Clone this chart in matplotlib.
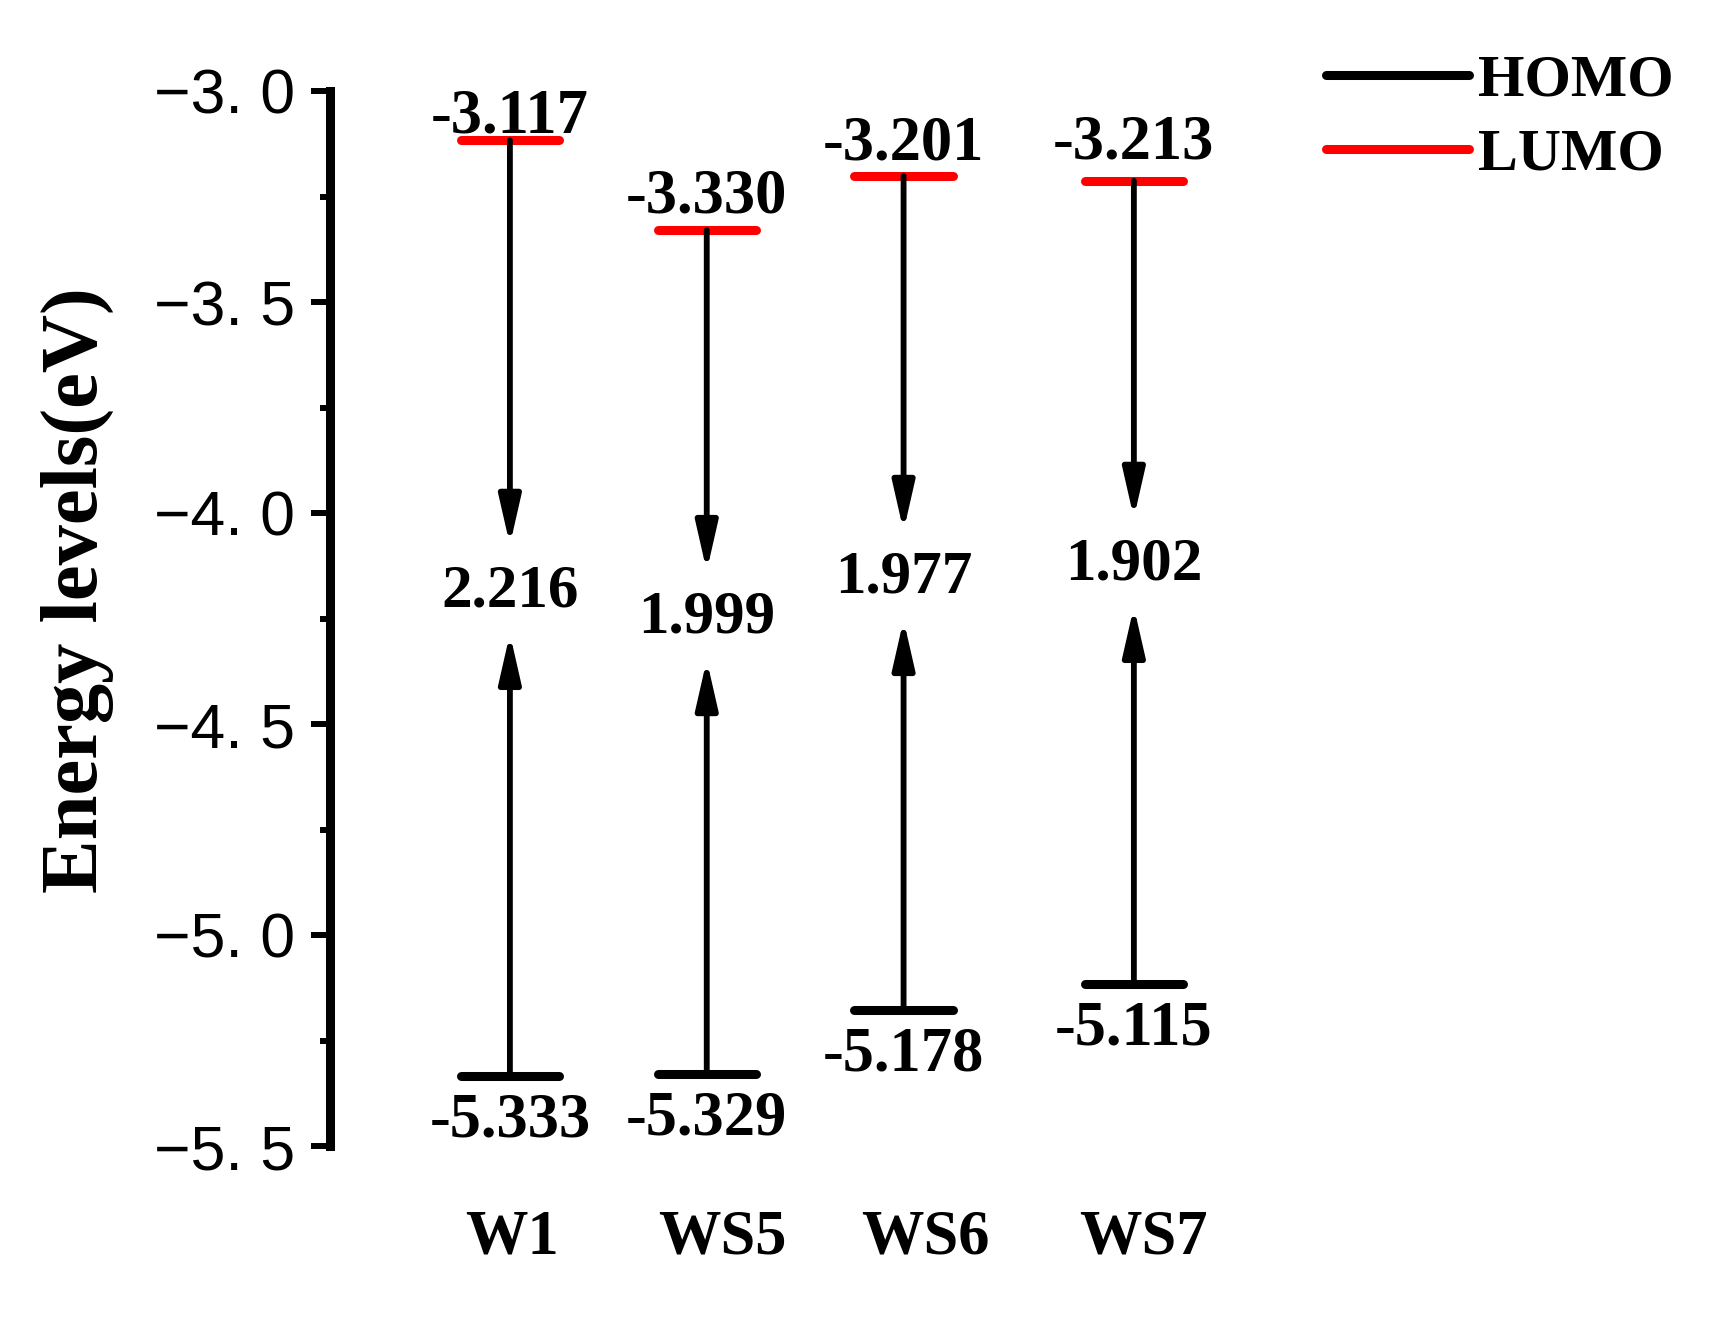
import numpy as np
import matplotlib
matplotlib.use("Agg")
import matplotlib.pyplot as plt
from matplotlib.ticker import FixedLocator, AutoMinorLocator, FuncFormatter

plt.rcParams['font.family'] = ['Liberation Serif', 'DejaVu Serif']
plt.rcParams['font.weight'] = 'bold'

# data
names = ['W1', 'WS5', 'WS6', 'WS7']
lumo = [-3.117, -3.330, -3.201, -3.213]
homo = [-5.333, -5.329, -5.178, -5.115]
gaps = [2.216, 1.999, 1.977, 1.902]
yticks = [-5.5, -5.0, -4.5, -4.0, -3.5, -3.0]

# layout
xpos = [1.0, 2.0, 3.0, 4.17]
xlab_pos = [1.01, 2.08, 3.11, 4.22]
gap_y = [-4.186, -4.248, -4.153, -4.122]
lumo_pad = [6, 13, 12, 16]
half_w = 0.25

fig = plt.figure(figsize=(17.23, 13.2), dpi=100)
ax = fig.add_axes([330/1723, 174/1320, 920/1723, 1055/1320])

for i in range(len(names)):
    x = xpos[i]
    ax.plot([x - half_w, x + half_w], [homo[i], homo[i]], color='black', lw=6.5,
            solid_capstyle='round', label='HOMO' if i == 0 else None, zorder=3)
    ax.plot([x - half_w, x + half_w], [lumo[i], lumo[i]], color='red', lw=6.5,
            solid_capstyle='round', label='LUMO' if i == 0 else None, zorder=3)

    arrow = dict(arrowstyle='-|>,head_length=1.45,head_width=0.33', lw=4.2,
                 color='black', shrinkA=0, shrinkB=0, mutation_scale=20)
    ax.annotate('', xy=(x, gap_y[i] + 0.11), xytext=(x, lumo[i]), arrowprops=arrow)
    ax.annotate('', xy=(x, gap_y[i] - 0.1), xytext=(x, homo[i]), arrowprops=arrow)

    ax.text(x, gap_y[i], f"{gaps[i]:.3f}", ha='center', va='center', fontsize=44)
    ax.annotate(f"{lumo[i]:.3f}", xy=(x, lumo[i]), xytext=(0, lumo_pad[i]),
                textcoords='offset points', ha='center', va='baseline', fontsize=45)
    ax.annotate(f"{homo[i]:.3f}", xy=(x, homo[i]), xytext=(0, -12),
                textcoords='offset points', ha='center', va='top', fontsize=45)

ax.set_xlim(0.086, 4.76)
ax.set_ylim(-5.5, -3.0)

ax.set_xticks(xlab_pos)
ax.set_xticklabels(names, fontsize=45, fontweight='bold')
ax.tick_params(axis='x', length=0, pad=46)

ax.yaxis.set_major_locator(FixedLocator(yticks))
ax.yaxis.set_minor_locator(AutoMinorLocator(2))
ax.yaxis.set_major_formatter(FuncFormatter(lambda v, p: f"{v:.1f}".replace('-', '\u2212').replace('.', '. ')))
ax.tick_params(axis='y', which='major', length=14, width=4.3, pad=11)
ax.tick_params(axis='y', which='minor', length=7, width=4.3)
for lbl in ax.get_yticklabels():
    lbl.set_fontfamily('Liberation Sans')
    lbl.set_fontweight('normal')
    lbl.set_fontsize(45)

for s in ['top', 'right', 'bottom']:
    ax.spines[s].set_visible(False)
ax.spines['left'].set_linewidth(6.5)

fig.text(77/1723, 1 - 590/1320, 'Energy levels(eV)', rotation=90, ha='center', va='center',
         fontsize=58, fontweight='bold')

ax.legend(loc='upper left', bbox_to_anchor=(1326/1723, 1 - 54/1320), bbox_transform=fig.transFigure,
          frameon=False, fontsize=43, handlelength=2.4, handletextpad=0.15, labelspacing=0.32,
          borderpad=0, borderaxespad=0)

fig.savefig('out.png', dpi=100)
